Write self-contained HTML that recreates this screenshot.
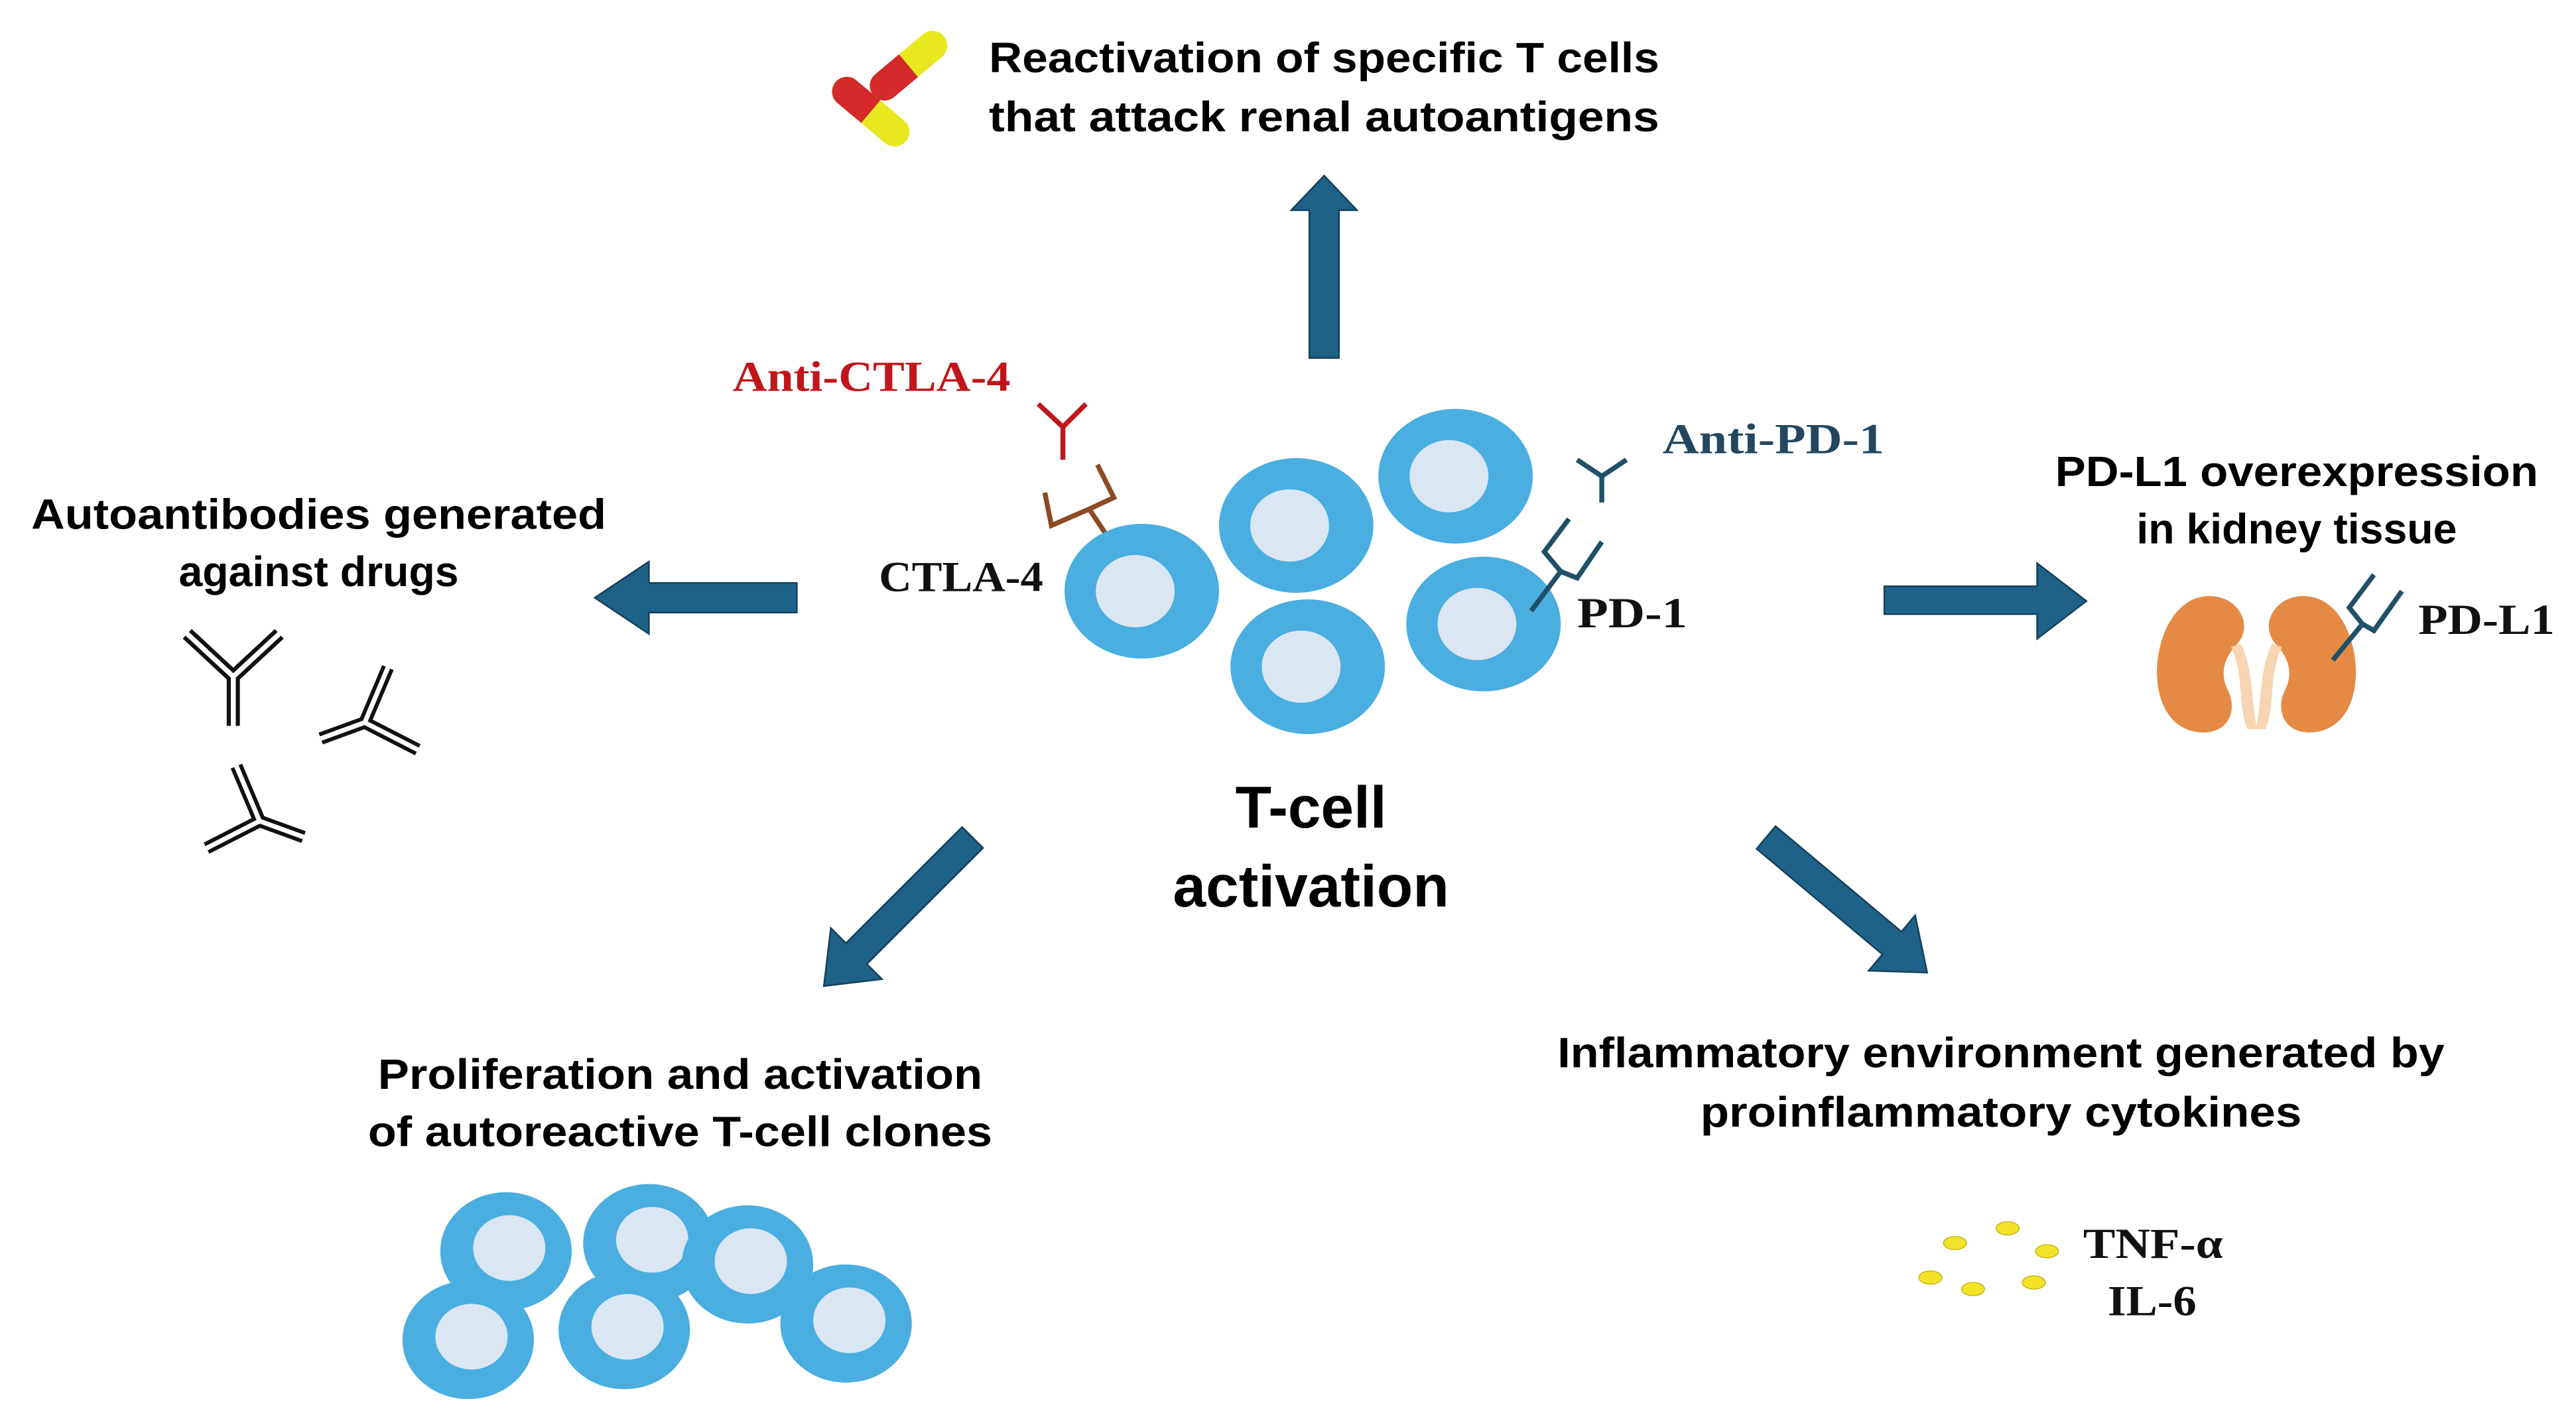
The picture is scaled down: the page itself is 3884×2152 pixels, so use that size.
<!DOCTYPE html>
<html><head><meta charset="utf-8"><style>
html,body{margin:0;padding:0;background:#fff}
svg{display:block}
.t{font-family:"Liberation Sans Narrow","Liberation Sans",sans-serif;font-weight:bold;fill:#000}
.s{font-family:"Liberation Serif",serif;font-weight:bold}
</style></head><body>
<svg width="3884" height="2152" viewBox="0 0 1568 869" preserveAspectRatio="none" xmlns="http://www.w3.org/2000/svg">
<defs>
<g id="cell"><ellipse cx="0" cy="0" rx="47" ry="41" fill="#4aaee0"/><ellipse cx="-4" cy="0" rx="24" ry="22" fill="#dbe6f3"/></g>
<g id="cellS"><ellipse cx="0" cy="0" rx="40" ry="36" fill="#4aaee0"/><ellipse cx="2" cy="-2" rx="22" ry="20" fill="#dbe6f3"/></g>
<g id="ab" fill="none"><path d="M0 30 V0 L-28 -26 M0 0 L28 -26" stroke="#111" stroke-width="8"/><path d="M0 30 V0 L-28 -26 M0 0 L28 -26" stroke="#fff" stroke-width="3"/></g>
</defs>
<rect width="1568" height="869" fill="#fff"/>

<!-- pills -->
<g transform="translate(553,40) rotate(-40)"><rect x="-28" y="-9" width="56" height="18" rx="9" fill="#e8e820"/><rect x="-28" y="-9" width="28" height="18" rx="9" fill="#d42a2a"/><rect x="-12" y="-9" width="12" height="18" fill="#d42a2a"/></g>
<g transform="translate(530,68) rotate(40)"><rect x="-28" y="-9" width="56" height="18" rx="9" fill="#e8e820"/><rect x="-28" y="-9" width="28" height="18" rx="9" fill="#d42a2a"/><rect x="-12" y="-9" width="12" height="18" fill="#d42a2a"/></g>
<text class="t" x="602" y="44" font-size="26" textLength="408" lengthAdjust="spacingAndGlyphs">Reactivation of specific T cells</text>
<text class="t" x="602" y="80" font-size="26" textLength="408" lengthAdjust="spacingAndGlyphs">that attack renal autoantigens</text>

<!-- arrows -->
<g fill="#1e6189" stroke="#14405a" stroke-width="1">
<path d="M797 218 V128 H786 L806 107 L826 128 H815 V218 Z"/>
<path d="M485 355 H395 V342 L362 364 L395 386 V373 H485 Z"/>
<path d="M1147 357 H1240 V343 L1270 366 L1240 389 V374 H1147 Z"/>
<g transform="translate(592,510) rotate(135)"><path d="M0 -9 H100 V-22 L128 0 L100 22 V9 H0 Z"/></g>
<g transform="translate(1075,510) rotate(40)"><path d="M0 -9 H100 V-22 L128 0 L100 22 V9 H0 Z"/></g>
</g>

<!-- anti-CTLA-4 -->
<text class="s" x="446" y="238" font-size="26" fill="#c0161b" textLength="169" lengthAdjust="spacingAndGlyphs">Anti-CTLA-4</text>
<path d="M647 280 V260 L632 246 M647 260 L661 246" stroke="#c0161b" stroke-width="3" fill="none"/>
<path d="M675 328 L663 310 L640 320 L636 300 M663 310 L678 303 L668 283" stroke="#8b4a22" stroke-width="3" fill="none"/>
<text class="s" x="535" y="360" font-size="26" fill="#111" textLength="100" lengthAdjust="spacingAndGlyphs">CTLA-4</text>

<!-- cells center -->
<use href="#cell" x="695" y="360"/>
<use href="#cell" x="789" y="320"/>
<use href="#cell" x="886" y="290"/>
<use href="#cell" x="796" y="406"/>
<use href="#cell" x="903" y="380"/>

<!-- anti-PD-1 -->
<text class="s" x="1012" y="276" font-size="26" fill="#24475f" textLength="135" lengthAdjust="spacingAndGlyphs">Anti-PD-1</text>
<path d="M975 306 V290 L960 280 M975 290 L990 280" stroke="#1f5068" stroke-width="3" fill="none"/>
<path d="M932 372 L950 348 L940 336 L955 316 M950 348 L960 352 L975 330" stroke="#1f5068" stroke-width="3" fill="none"/>
<text class="s" x="960" y="382" font-size="26" fill="#111" textLength="67" lengthAdjust="spacingAndGlyphs">PD-1</text>

<!-- left -->
<text class="t" x="194" y="322" font-size="26" text-anchor="middle" textLength="350" lengthAdjust="spacingAndGlyphs">Autoantibodies generated</text>
<text class="t" x="194" y="357" font-size="26" text-anchor="middle">against drugs</text>
<use href="#ab" transform="translate(142,412)"/>
<use href="#ab" transform="translate(222,440) rotate(70) scale(0.95)"/>
<use href="#ab" transform="translate(158,500) rotate(-70) scale(0.95)"/>

<!-- right -->
<text class="t" x="1398" y="296" font-size="26" text-anchor="middle" textLength="294" lengthAdjust="spacingAndGlyphs">PD-L1 overexpression</text>
<text class="t" x="1398" y="331" font-size="26" text-anchor="middle">in kidney tissue</text>
<path d="M1345 363 C1322 363 1312 392 1313 412 C1314 434 1326 447 1343 446 C1357 445 1362 432 1356 420 C1350 408 1356 398 1362 392 C1372 380 1362 363 1345 363 Z" fill="#e58a44"/>
<path d="M1402 363 C1425 363 1435 392 1434 412 C1433 434 1421 447 1404 446 C1390 445 1385 432 1391 420 C1397 408 1391 398 1385 392 C1375 380 1385 363 1402 363 Z" fill="#e58a44"/>
<path d="M1358 394 C1366 410 1362 430 1368 444 L1374 444 C1370 428 1372 408 1364 392 Z" fill="#f8d4b0"/>
<path d="M1389 394 C1381 410 1385 430 1379 444 L1373 444 C1377 428 1375 408 1383 392 Z" fill="#f8d4b0"/>
<path d="M1420 402 L1438 380 L1430 370 L1445 350 M1438 380 L1445 384 L1462 360" stroke="#1f5068" stroke-width="3" fill="none"/>
<text class="s" x="1472" y="386" font-size="26" fill="#111" textLength="83" lengthAdjust="spacingAndGlyphs">PD-L1</text>

<!-- center label -->
<text class="t" x="798" y="504" font-size="36" text-anchor="middle">T-cell</text>
<text class="t" x="798" y="552" font-size="36" text-anchor="middle">activation</text>

<!-- bottom left -->
<text class="t" x="414" y="663" font-size="26" text-anchor="middle" textLength="368" lengthAdjust="spacingAndGlyphs">Proliferation and activation</text>
<text class="t" x="414" y="698" font-size="26" text-anchor="middle" textLength="380" lengthAdjust="spacingAndGlyphs">of autoreactive T-cell clones</text>
<use href="#cellS" x="308" y="762"/>
<use href="#cellS" x="395" y="757"/>
<use href="#cellS" x="455" y="770"/>
<use href="#cellS" x="515" y="806"/>
<use href="#cellS" x="285" y="816"/>
<use href="#cellS" x="380" y="810"/>

<!-- bottom right -->
<text class="t" x="1218" y="650" font-size="26" text-anchor="middle" textLength="540" lengthAdjust="spacingAndGlyphs">Inflammatory environment generated by</text>
<text class="t" x="1218" y="686" font-size="26" text-anchor="middle" textLength="366" lengthAdjust="spacingAndGlyphs">proinflammatory cytokines</text>
<g fill="#f3e22a" stroke="#c9b510" stroke-width="0.6">
<ellipse cx="1190" cy="757" rx="7" ry="4"/><ellipse cx="1222" cy="748" rx="7" ry="4"/><ellipse cx="1246" cy="762" rx="7" ry="4"/>
<ellipse cx="1175" cy="778" rx="7" ry="4"/><ellipse cx="1201" cy="785" rx="7" ry="4"/><ellipse cx="1238" cy="781" rx="7" ry="4"/>
</g>
<text class="s" x="1268" y="766" font-size="26" fill="#111" textLength="85" lengthAdjust="spacingAndGlyphs">TNF-α</text>
<text class="s" x="1283" y="801" font-size="26" fill="#111" textLength="54" lengthAdjust="spacingAndGlyphs">IL-6</text>
</svg>
</body></html>
